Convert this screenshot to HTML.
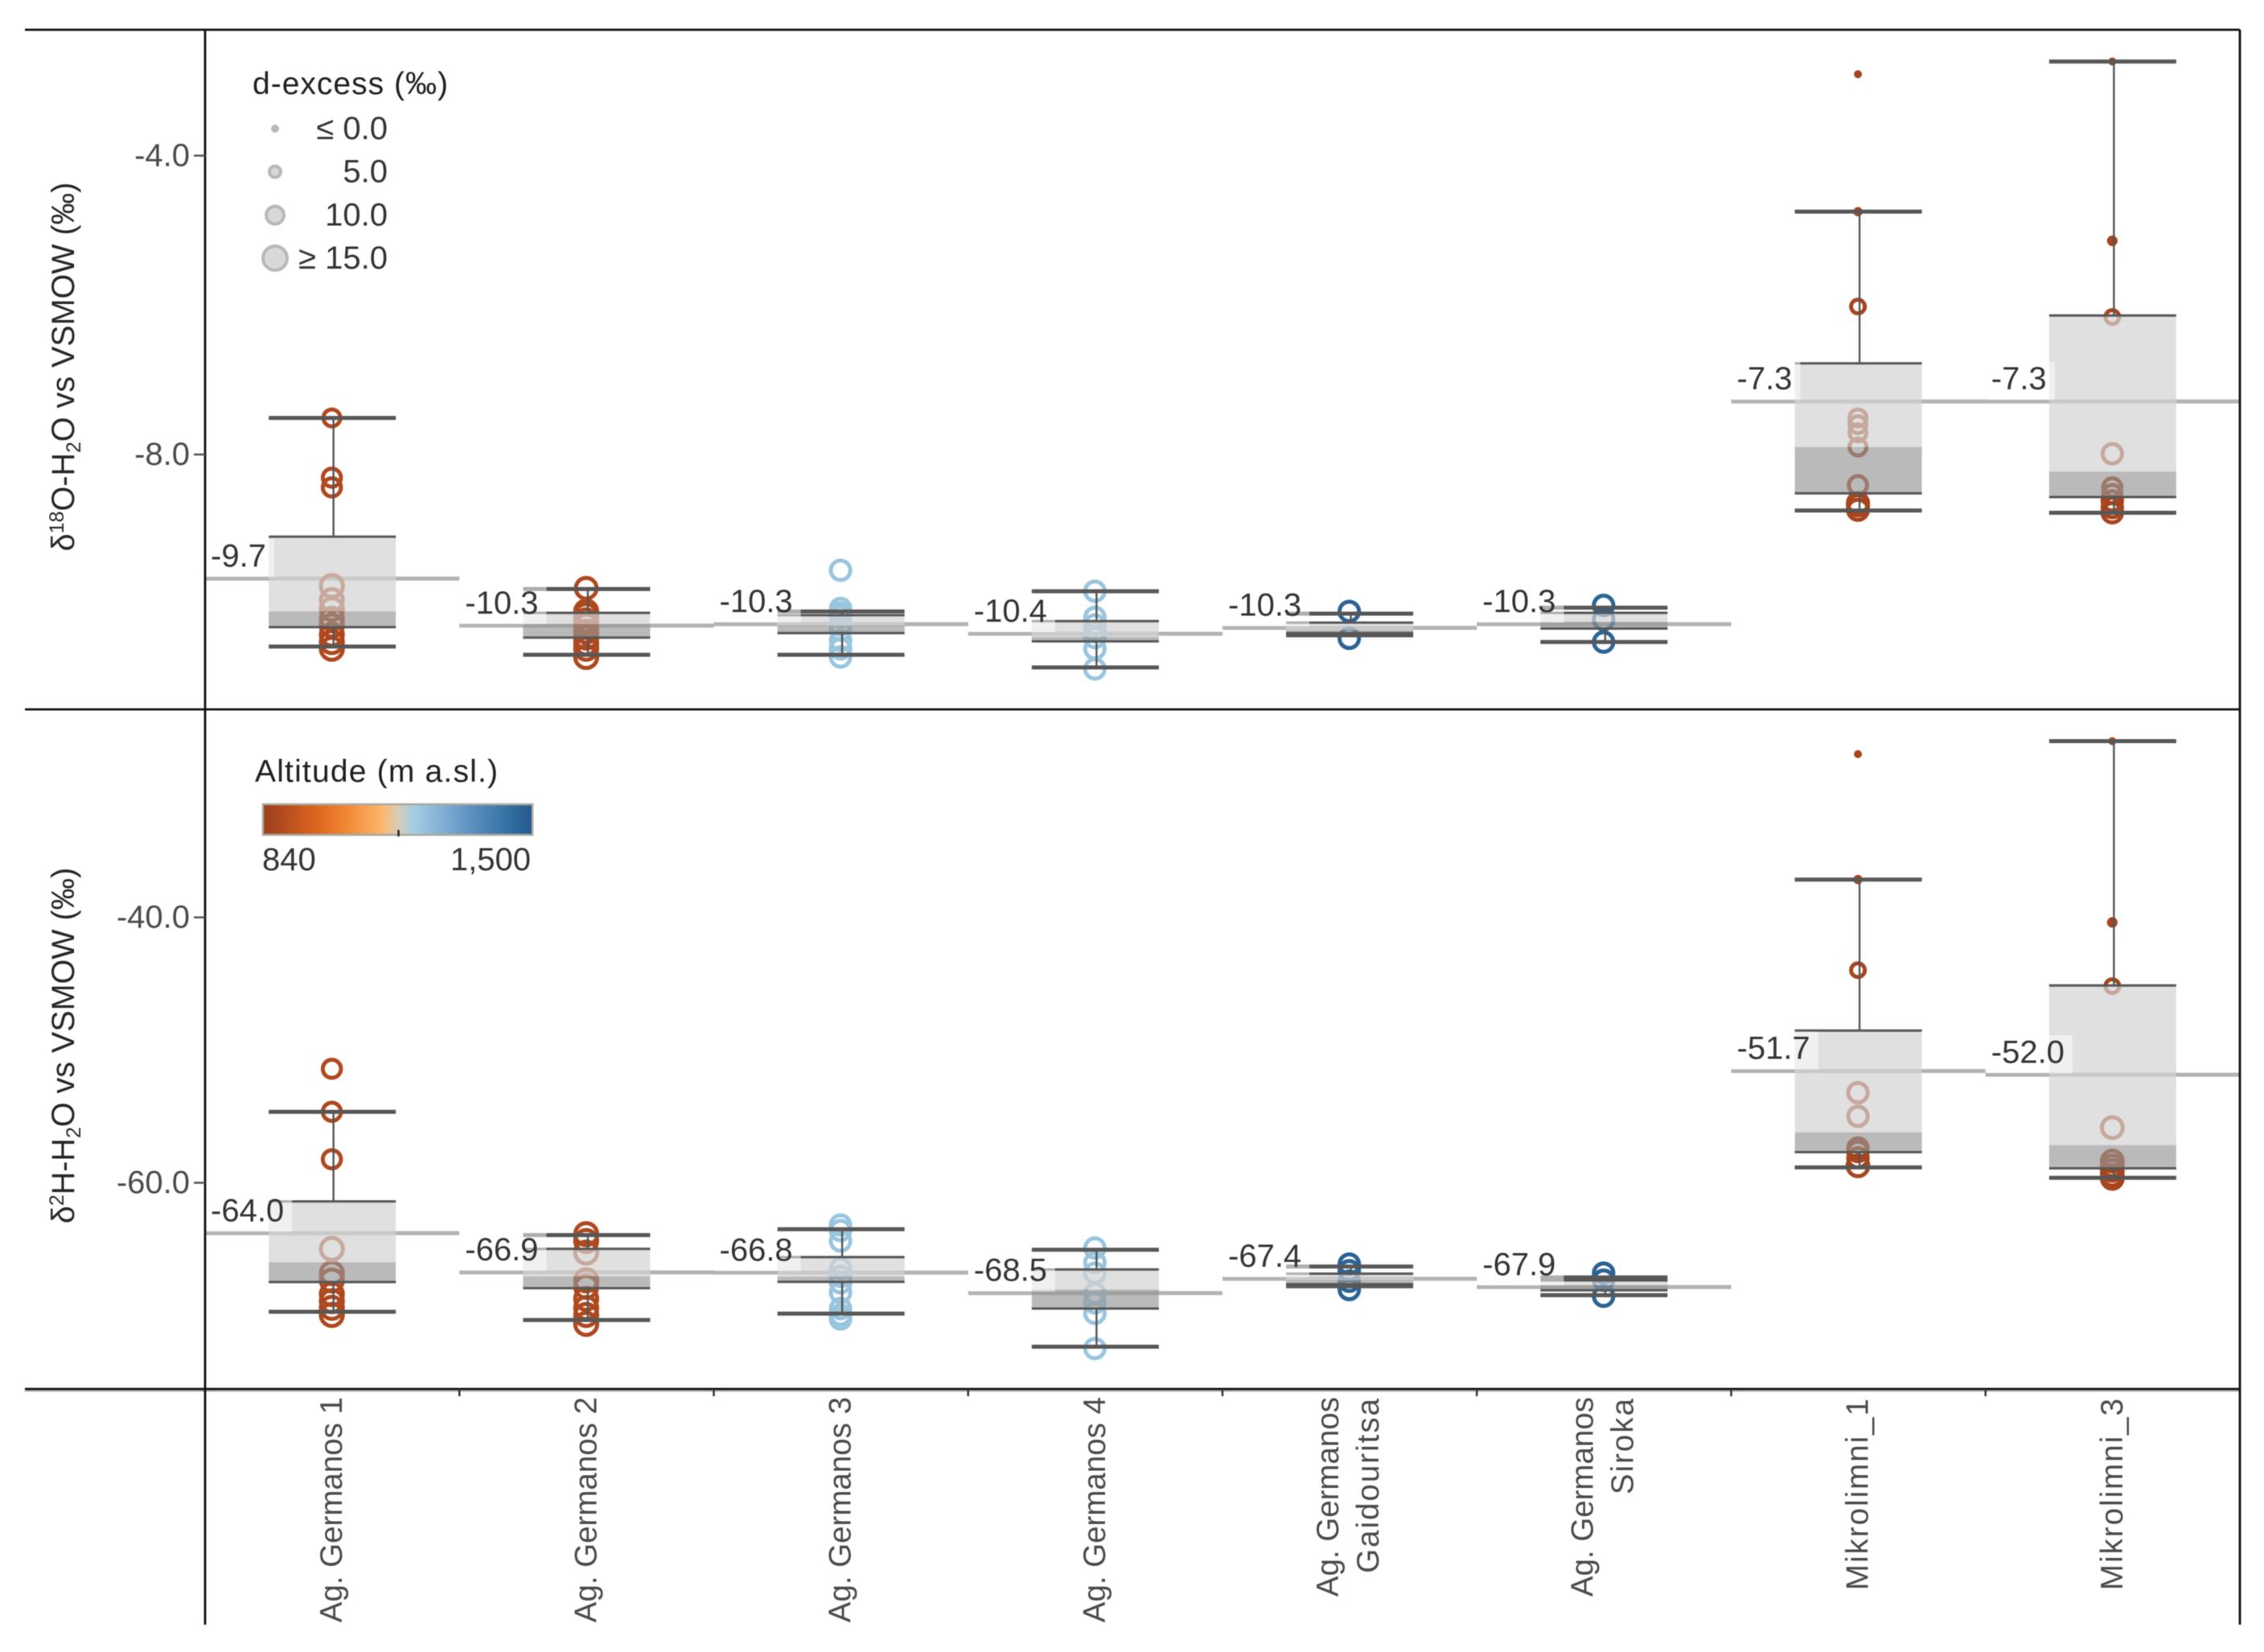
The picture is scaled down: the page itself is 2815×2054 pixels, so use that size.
<!DOCTYPE html>
<html lang="en">
<head>
<meta charset="utf-8">
<title>Isotope box plots by site</title>
<style>
html,body{margin:0;padding:0;background:#fff;}
svg{display:block;font-family:"Liberation Sans",Arial,sans-serif;filter:blur(0.6px);}
</style>
</head>
<body>
<svg id="chart" xmlns="http://www.w3.org/2000/svg" width="2815" height="2054" viewBox="0 0 2815 2054">
  <rect x="0" y="0" width="2815" height="2054" fill="#ffffff"/>
  <defs>
    <linearGradient id="altGrad" x1="0" x2="1" y1="0" y2="0"></linearGradient>
  </defs>
  <g id="marks"></g>
  <g id="frame" stroke="#111" stroke-width="2.8">
    <line x1="31" y1="37" x2="2785" y2="37"/>
    <line x1="31" y1="882" x2="2785" y2="882"/>
    <line x1="31" y1="1729.5" x2="2785" y2="1729.5" stroke="#999" stroke-width="1.6"/>
    <line x1="31" y1="1727" x2="2785" y2="1727"/>
    <line x1="255" y1="37" x2="255" y2="2020"/>
    <line x1="2785" y1="37" x2="2785" y2="2020"/>
  </g>
  <g id="axes"></g>
  <text transform="translate(92,456) rotate(-90)" text-anchor="middle" font-size="39.5" fill="#262626">δ<tspan font-size="25" dy="-13">18</tspan><tspan dy="13">O-H</tspan><tspan font-size="25" dy="8">2</tspan><tspan dy="-8">O vs VSMOW (‰)</tspan></text>
  <text transform="translate(92,1300) rotate(-90)" text-anchor="middle" font-size="39.5" fill="#262626">δ<tspan font-size="25" dy="-13">2</tspan><tspan dy="13">H-H</tspan><tspan font-size="25" dy="8">2</tspan><tspan dy="-8">O vs VSMOW (‰)</tspan></text>
  <g id="size-legend">
    <text x="314" y="117" font-size="39" fill="#1f1f1f" textLength="243" lengthAdjust="spacing">d-excess (‰)</text>
  </g>
  <g id="color-legend">
    <text x="317" y="972" font-size="39" fill="#1f1f1f" textLength="302" lengthAdjust="spacing">Altitude (m a.sl.)</text>
    <rect x="327" y="1000" width="335" height="38" fill="url(#altGrad)" stroke="#a8a8a0" stroke-width="2.5"/>
    <line x1="495.5" y1="1032" x2="495.5" y2="1040" stroke="#222" stroke-width="2.5"/>
    <text x="326" y="1082" font-size="40" fill="#333">840</text>
    <text x="660" y="1082" font-size="40" fill="#333" text-anchor="end">1,500</text>
  </g>
</svg>
<script>
// ---- Data ----
const siteLabels = [["Ag. Germanos 1"],["Ag. Germanos 2"],["Ag. Germanos 3"],["Ag. Germanos 4"],["Ag. Germanos","Gaidouritsa"],["Ag. Germanos","Siroka"],["Mikrolimni_1"],["Mikrolimni_3"]];
const altitudes = [880,880,1230,1230,1475,1475,865,865];

const o18Ticks = [-4,-8];
const h2Ticks = [-40,-60];

const o18WhiskerTop = [-7.51,-9.80,-10.10,-9.83,-10.13,-10.05,-4.75,-2.74];
const o18Q3 = [-9.10,-10.12,-10.15,-10.23,-10.25,-10.12,-6.78,-6.14];
const o18Median = [-10.10,-10.27,-10.29,-10.44,-10.35,-10.24,-7.90,-8.23];
const o18Q1 = [-10.31,-10.45,-10.39,-10.50,-10.39,-10.33,-8.52,-8.57];
const o18WhiskerBottom = [-10.57,-10.68,-10.68,-10.85,-10.42,-10.51,-8.75,-8.78];
const o18RefLine = [-9.66,-10.29,-10.27,-10.40,-10.32,-10.27,-7.29,-7.29];
const o18RefLabels = ["-9.7","-10.3","-10.3","-10.4","-10.3","-10.3","-7.3","-7.3"];
const o18Points = [
  [-7.51,-8.31,-8.44,-9.76,-9.95,-10.07,-10.20,-10.29,-10.41,-10.51,-10.60],
  [-9.79,-10.10,-10.15,-10.22,-10.29,-10.37,-10.45,-10.53,-10.60,-10.71],
  [-9.55,-10.06,-10.12,-10.17,-10.28,-10.35,-10.49,-10.60,-10.71],
  [-9.83,-10.18,-10.28,-10.37,-10.45,-10.60,-10.87],
  [-10.10,-10.46],
  [-10.02,-10.21,-10.51],
  [-2.91,-4.75,-6.02,-7.51,-7.60,-7.71,-7.90,-8.41,-8.68,-8.74,-8.65],
  [-2.74,-5.14,-6.16,-7.99,-8.44,-8.53,-8.62,-8.71,-8.78]
];
const o18Dexcess = [
  [10,11,11,14,14,14,14,14,14,14,14],
  [13,14,14,14,14,14,14,14,14,14],
  [12,12,12,12,12,12,12,12,12],
  [12,12,12,12,12,12,12],
  [12,12],
  [12,12,12],
  [-1,1,7.5,10,10,10,10,11,12.5,12.5,12.5],
  [-1,2,7.5,12,11,11,12,12,12]
];

const h2WhiskerTop = [-54.65,-63.94,-63.50,-65.05,-66.31,-67.13,-37.15,-26.72];
const h2Q3 = [-61.40,-64.98,-65.60,-66.53,-66.85,-67.36,-48.53,-45.13];
const h2Median = [-65.99,-67.05,-67.07,-68.04,-67.36,-67.72,-56.20,-57.16];
const h2Q1 = [-67.48,-67.94,-67.46,-69.48,-67.64,-68.10,-57.69,-58.91];
const h2WhiskerBottom = [-69.72,-70.34,-69.86,-72.35,-67.80,-68.47,-58.84,-59.62];
const h2RefLine = [-63.80,-66.75,-66.77,-68.31,-67.24,-67.86,-51.58,-51.86];
const h2RefLabels = ["-64.0","-66.9","-66.8","-68.5","-67.4","-67.9","-51.7","-52.0"];
const h2Points = [
  [-51.41,-54.65,-58.23,-64.98,-66.81,-67.36,-68.39,-68.92,-69.42,-69.96],
  [-63.87,-64.39,-65.26,-67.35,-67.84,-68.74,-69.44,-69.96,-70.63],
  [-63.18,-63.60,-64.39,-66.45,-67.05,-67.54,-68.27,-69.48,-69.96,-70.27],
  [-64.92,-66.02,-66.81,-68.33,-69.05,-69.84,-72.49],
  [-66.13,-66.63,-67.42,-68.04],
  [-66.81,-67.34,-68.55],
  [-27.70,-37.15,-43.98,-53.21,-54.99,-57.39,-57.64,-58.12,-58.72],
  [-26.72,-40.38,-45.18,-55.84,-58.36,-58.72,-59.07,-59.43,-59.67]
];
const h2Dexcess = [
  [11,11,11,14,14,14,14,14,14,14],
  [14,14,14,14,14,14,14,14,14],
  [12,12,12,12,12,12,12,12,12,12],
  [12,12,12,12,12,12,12],
  [12,12,12,12],
  [12,12,12],
  [-1,1,7.5,12,12,12,12,12,13],
  [-1,2,7.5,13,13,13,13,13,13]
];

const sizeLegendValues = [0,5,10,15];
const sizeLegendLabels = ["≤ 0.0","5.0","10.0","≥ 15.0"];

// ---- Scales ----
const SVG_NS = "http://www.w3.org/2000/svg";
const plotLeft = 255, cellWidth = 316.25, boxWidth = 158;
const xCenter = i => plotLeft + cellWidth * (i + 0.5);
const xCell = i => plotLeft + cellWidth * i;
const yO18 = v => 193.5 + (-4 - v) * 92.9;
const yH2 = v => 1140.6 + (-40 - v) * 16.5;
const radius = d => 5 + 0.8 * Math.max(0, Math.min(15, d));

const rampStops = [
  [0,"#9a3d1e"],[0.2,"#dd6620"],[0.3,"#ef8430"],[0.44,"#fdb56c"],[0.5,"#d8cdb5"],
  [0.56,"#a4cee4"],[0.75,"#6497c4"],[0.93,"#2f6b9f"],[1,"#27598a"]
];
const hex = c => [1,3,5].map(k => parseInt(c.substr(k,2),16));
function altColor(alt){
  const t = (alt - 840) / (1500 - 840);
  for (let k = 1; k < rampStops.length; k++){
    if (t <= rampStops[k][0]){
      const f = (t - rampStops[k-1][0]) / (rampStops[k][0] - rampStops[k-1][0]);
      const a = hex(rampStops[k-1][1]), b = hex(rampStops[k][1]);
      return "rgb(" + a.map((c,j) => Math.round(c + (b[j]-c)*f)).join(",") + ")";
    }
  }
  return rampStops[rampStops.length-1][1];
}
function mk(parent, tag, attrs, text){
  const el = document.createElementNS(SVG_NS, tag);
  for (const key in attrs) el.setAttribute(key, attrs[key]);
  if (text !== undefined) el.textContent = text;
  parent.appendChild(el);
  return el;
}

// ---- Gradient ----
const gradEl = document.getElementById("altGrad");
rampStops.forEach(s => { mk(gradEl, "stop", {offset: s[0], "stop-color": s[1]}); });

// ---- Panels ----
const marks = document.getElementById("marks");
const axes = document.getElementById("axes");

function drawPanel(prefix, y, top, q3, med, q1, bot, ref, refLabels, points, dex){
  const lineLayer = mk(marks, "g", {});
  
  
  const pointLayer = mk(marks, "g", {});
  
  
  const boxLayer = mk(marks, "g", {});
  
  
  const labelLayer = mk(marks, "g", {});
  
  

  siteLabels.forEach((_, i) => {
    const cx = xCenter(i), left = cx - boxWidth/2, right = cx + boxWidth/2;
    const refLine = mk(lineLayer, "line", {x1: xCell(i), x2: xCell(i+1), y1: y(ref[i]), y2: y(ref[i]), stroke: "#b3b3b3", "stroke-width": 5});
    
    

    points[i].forEach((v, k) => {
      const r = radius(dex[i][k]);
      const small = dex[i][k] < 3;
      const color = altColor(altitudes[i]);
      const ring = mk(pointLayer, "circle", {cx: cx - 0.5, cy: y(v), r: r - 2.5, fill: small ? color : "none", stroke: color, "stroke-width": 5});
      
      
    });

    const upper = mk(boxLayer, "rect", {x: left, width: boxWidth, y: y(q3[i]), height: y(med[i]) - y(q3[i]), fill: "rgb(211,211,211)", "fill-opacity": 0.7});
    
    
    const lower = mk(boxLayer, "rect", {x: left, width: boxWidth, y: y(med[i]), height: y(q1[i]) - y(med[i]), fill: "rgb(149,149,149)", "fill-opacity": 0.65});
    
    

    const stemTop = mk(boxLayer, "line", {x1: cx+1.5, x2: cx+1.5, y1: y(top[i]), y2: y(q3[i]), stroke: "#555", "stroke-width": 2.4});
    
    
    const stemBot = mk(boxLayer, "line", {x1: cx+1.5, x2: cx+1.5, y1: y(q1[i]), y2: y(bot[i]), stroke: "#555", "stroke-width": 2.4});
    
    

    const capTop = mk(boxLayer, "line", {x1: left, x2: right, y1: y(top[i]), y2: y(top[i]), stroke: "#575757", "stroke-width": 5});
    
    
    const capBot = mk(boxLayer, "line", {x1: left, x2: right, y1: y(bot[i]), y2: y(bot[i]), stroke: "#575757", "stroke-width": 5});
    
    
    const edgeTop = mk(boxLayer, "line", {x1: left, x2: right, y1: y(q3[i]), y2: y(q3[i]), stroke: "#575757", "stroke-width": 3});
    
    
    const edgeBot = mk(boxLayer, "line", {x1: left, x2: right, y1: y(q1[i]), y2: y(q1[i]), stroke: "#575757", "stroke-width": 3});
    
    

    const baseY = y(ref[i]) - 15;
    const bg = mk(labelLayer, "rect", {x: xCell(i) + 2, y: baseY - 34, height: 47, width: 100, fill: "#ffffff", "fill-opacity": 0.52});
    
    
    const label = mk(labelLayer, "text", {x: xCell(i) + 7, y: baseY, "font-size": 40, fill: "#333"}, refLabels[i]);
    
    
    bg.setAttribute("width", label.getComputedTextLength() + 15);
  });
}

drawPanel("o18", yO18, o18WhiskerTop, o18Q3, o18Median, o18Q1, o18WhiskerBottom, o18RefLine, o18RefLabels, o18Points, o18Dexcess);
drawPanel("h2", yH2, h2WhiskerTop, h2Q3, h2Median, h2Q1, h2WhiskerBottom, h2RefLine, h2RefLabels, h2Points, h2Dexcess);

// ---- Y axes ----
function drawTicks(prefix, ticks, y){
  ticks.forEach(v => {
    const tick = mk(axes, "line", {x1: 241, x2: 255, y1: y(v), y2: y(v), stroke: "#555", "stroke-width": 2.5});
    
    
    const tl = mk(axes, "text", {x: 236, y: y(v) + 13, "text-anchor": "end", "font-size": 40, fill: "#4a4a4a"}, v.toFixed(1));
    
    
  });
}
drawTicks("o18", o18Ticks, yO18);
drawTicks("h2", h2Ticks, yH2);

// ---- X axis ----
siteLabels.forEach((lines, i) => {
  if (i > 0){
    const xt = mk(axes, "line", {x1: xCell(i), x2: xCell(i), y1: 1727, y2: 1736, stroke: "#333", "stroke-width": 2.5});
    
    
  }
  const cx = xCenter(i);
  lines.forEach((s, k) => {
    const bx = lines.length === 1 ? cx + 12 : cx - 14 + k * 50;
    const spacing = s.indexOf("Ag.") === 0 ? 0 : 2;
    const xl = mk(axes, "text", {transform: "translate(" + bx + ",1737) rotate(-90)", "text-anchor": "end", "font-size": 38.5, "letter-spacing": spacing, fill: "#4a4a4a"}, s);
    
    
  });
});

// ---- Size legend ----
const sizeLegend = document.getElementById("size-legend");
const legendRowY = [160,213.5,267.5,321];
sizeLegendValues.forEach((d, k) => {
  const c = mk(sizeLegend, "circle", {cx: 342, cy: legendRowY[k], r: radius(d) - 2, fill: d < 3 ? "#b8b8b8" : "rgba(190,190,190,0.6)", stroke: "#b8b8b8", "stroke-width": 4});
  
  
  const t = mk(sizeLegend, "text", {x: 482, y: legendRowY[k] + 13, "text-anchor": "end", "font-size": 40, fill: "#333"}, sizeLegendLabels[k]);
  
  
});
</script>
</body>
</html>
